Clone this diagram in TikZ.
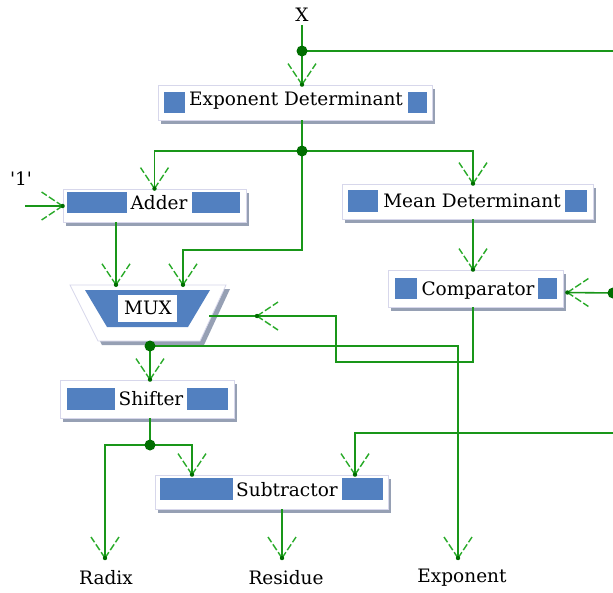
\documentclass[tikz,border=0pt]{standalone}
\usepackage{fontspec}
\setmainfont{DejaVu Serif}
\usetikzlibrary{shadows,calc}
\definecolor{lnc}{RGB}{25,150,25}
\definecolor{hdc}{RGB}{40,170,40}
\definecolor{jc}{RGB}{0,110,0}
\definecolor{bluec}{RGB}{82,128,192}
\definecolor{frc}{RGB}{215,215,235}
\definecolor{shc}{RGB}{150,160,180}
\newcommand\frm[5]{\node[blkframe, minimum width={#4-#2}, minimum height={#5-#3}] (#1) at ({(#2+#4)/2},{(#3+#5)/2}) {};}
\newcommand\blu[4]{\fill[bluec] (#1,#2) rectangle (#3,#4);}
\begin{document}
\begin{tikzpicture}[x=1pt,y=-1pt,
 wire/.style={draw=lnc, line width=1.6pt},
 blkframe/.style={draw=frc, fill=white, line width=0.8pt, inner sep=0pt,
   drop shadow={shadow xshift=3pt, shadow yshift=-4pt, fill=shc, opacity=1}},
 lbl/.style={font=\fontsize{18.5}{20}\selectfont, inner sep=1pt},
 vhead/.pic={\draw[hdc, line width=1.4pt, dash pattern=on 7pt off 2.5pt] (0,0)--(-21,14) (0,0)--(-21,-14); \fill[jc] (0,0) circle (2.2);},
 jdot/.pic={\fill[jc] (0,0) circle (5.5);}
]
\fill[white] (0,0) rectangle (613,592);
\useasboundingbox (0,0) rectangle (613,592);

% ---- blocks
\frm{ed}{158}{85}{432}{120}
\blu{164}{92}{185}{113}\blu{408}{92}{427}{113}
\node[lbl] (edt) at (296,101) {Exponent Determinant};

\frm{add}{63}{189}{246}{222}
\blu{67}{192}{127}{213}\blu{192}{192}{240}{213}
\node[lbl] (addt) at (159,203) {Adder};

\frm{md}{342}{184}{593}{219}
\blu{348}{190}{378}{212}\blu{565}{190}{587}{212}
\node[lbl] (mdt) at (472,201) {Mean Determinant};

\frm{cmp}{388}{270}{563}{307}
\blu{395}{278}{417}{299}\blu{538}{278}{557}{299}
\node[lbl] (cmpt) at (478,291) {Comparator};

\frm{sh}{60}{380}{234}{418}
\blu{67}{388}{115}{410}\blu{187}{388}{228}{410}
\node[lbl] (sht) at (151,399) {Shifter};

\frm{sub}{155}{475}{388}{509}
\blu{160}{478}{233}{500}\blu{342}{478}{383}{500}
\node[lbl] (subt) at (287,490) {Subtractor};

% MUX
\fill[shc] (74,289) -- (230,289) -- (204,345) -- (102,345) -- cycle;
\filldraw[fill=white, draw=frc, line width=0.8pt] (70,285) -- (226,285) -- (200,341) -- (98,341) -- cycle;
\fill[bluec] (85,290) -- (210,290) -- (188,327) -- (107,327) -- cycle;
\fill[white] (118,295) rectangle (177,322);
\node[minimum width=156, minimum height=56, inner sep=0pt] (mux) at (148,313) {};
\node[lbl] (muxt) at (148,308) {MUX};

% ---- labels
\node[lbl] (xin) at (302,15) {X};
\node[lbl] (one) at (21,179) {\textquotesingle1\textquotesingle};
\node[lbl] (radix) at (106,578) {Radix};
\node[lbl] (res) at (286,578) {Residue};
\node[lbl] (expo) at (462,578) {Exponent};

% ---- coordinates
\coordinate (j1) at (302,51);
\coordinate (j2) at (302,151);
\coordinate (j3) at (150,346);
\coordinate (j4) at (150,445);
\coordinate (e1) at (614,51);
\coordinate (e2) at (613,293);
\coordinate (e3) at (614,433);
\coordinate (onein) at (25,206);
\coordinate (muxR) at (209,316);
\coordinate (k1) at (336,316);
\coordinate (radin) at (105,558);
\coordinate (resin) at (282,558);
\coordinate (expin) at (458,558);
\coordinate (mdin) at ([xshift=5.5pt]md.north);
\coordinate (mdout) at ([xshift=5.5pt]md.south);
\coordinate (cmpR) at ([xshift=4pt,yshift=-4pt]cmp.east);
\coordinate (cmpout) at ([xshift=-2.5pt]cmp.south);
\coordinate (addout) at ([xshift=-38.5pt]add.south);
\coordinate (muxin2) at (183,250);
\coordinate (subin1) at ([xshift=-79.5pt]sub.north);
\coordinate (subin2) at ([xshift=83.5pt]sub.north);

% ---- wires
\draw[wire] ([yshift=-2pt]xin.south) -- (j1) -- (j1 |- ed.north) pic[rotate=-90]{vhead};
\draw[wire] (j1) -- (e1);
\draw[wire] (j1 |- ed.south) -- (j2);
\draw[wire] (j2) -| (add.north) pic[rotate=-90]{vhead};
\draw[wire] (j2) -| (mdin) pic[rotate=-90]{vhead};
\draw[wire] (j2) |- (muxin2) -- (muxin2 |- mux.north) pic[rotate=-90]{vhead};
\draw[wire] (onein) -- (add.west |- onein) pic{vhead};
\draw[wire] (addout) -- (addout |- mux.north) pic[rotate=-90]{vhead};
\draw[wire] (mdout) -- (mdout |- cmp.north) pic[rotate=-90]{vhead};
\draw[wire] (e2) -- (cmpR) pic[rotate=180]{vhead};
\draw[wire] (cmpout) |- (k1 |- 0,362) -- (k1) -- (muxR);
\pic[rotate=180] at (257,316) {vhead};
\draw[wire] (j3 |- mux.south) -- (j3) -- (j3 |- sh.north) pic[rotate=-90]{vhead};
\draw[wire] (j3) -| (expin) pic[rotate=-90]{vhead};
\draw[wire] (j3 |- sh.south) -- (j4);
\draw[wire] (j4) -| (radin) pic[rotate=-90]{vhead};
\draw[wire] (j4) -| (subin1) pic[rotate=-90]{vhead};
\draw[wire] (e3) -| (subin2) pic[rotate=-90]{vhead};
\draw[wire] (resin |- sub.south) -- (resin) pic[rotate=-90]{vhead};

% ---- junctions
\pic at (j1) {jdot};
\pic at (j2) {jdot};
\pic at (j3) {jdot};
\pic at (j4) {jdot};
\pic at (e2) {jdot};
\end{tikzpicture}
\end{document}
